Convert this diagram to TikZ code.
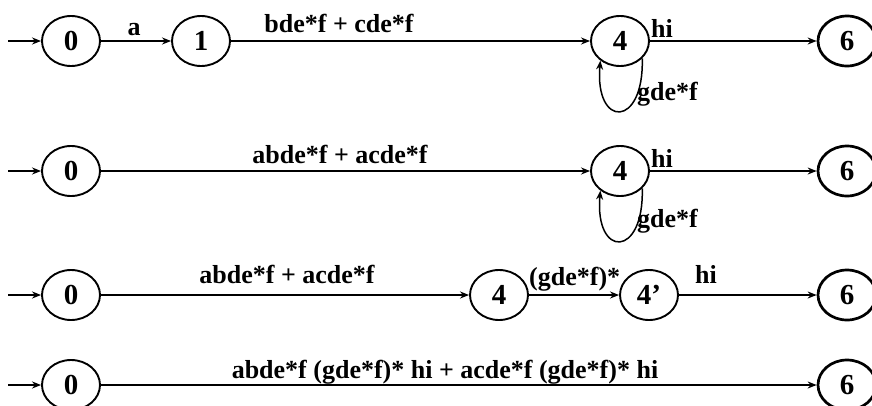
\documentclass[tikz,border=0pt]{standalone}
\usepackage{fontspec}
\setmainfont{Liberation Serif}
\usetikzlibrary{shapes.geometric,arrows.meta}
\begin{document}
\begin{tikzpicture}[x=1pt,y=-1pt,
  font=\fontsize{26}{30}\selectfont\bfseries,
  st/.style={ellipse,draw,line width=1.9pt,minimum width=58pt,minimum height=50pt,inner sep=0pt,font=\fontsize{29}{32}\selectfont\bfseries},
  fin/.style={st,line width=2.7pt},
  tr/.style={-{Stealth[length=9pt,width=7pt]},line width=1.5pt},
  trl/.style={tr,line width=2.1pt},
  lab/.style={anchor=base,inner sep=0pt},
  labw/.style={anchor=base west,inner sep=0pt}]
\useasboundingbox (0,0) rectangle (872,405);
% Row 1
\node[st] (a0) at (71,41) {0};
\node[st] (a1) at (201,41) {1};
\node[st] (a4) at (620,41) {4};
\node[fin] (a6) at (847,41) {6};
\coordinate (as) at (8,41);
\draw[tr] (as) -- (a0);
\draw[tr] (a0) -- (a1);
\draw[trl] (a1) -- (a4);
\draw[tr] (a4) -- (a6);
\draw[tr] (a4.-38) .. controls +(2,70) and +(-6,68) .. (a4.-135);
\node[lab] (la1) at (134,35) {a};
\node[lab] (la2) at (339,32) {bde*f + cde*f};
\node[labw] (la3) at (651,37) {hi};
\node[labw] (la4) at (637,100) {gde*f};
% Row 2
\node[st] (b0) at (71,171) {0};
\node[st] (b4) at (620,171) {4};
\node[fin] (b6) at (847,171) {6};
\coordinate (bs) at (8,171);
\draw[tr] (bs) -- (b0);
\draw[trl] (b0) -- (b4);
\draw[tr] (b4) -- (b6);
\draw[tr] (b4.-38) .. controls +(2,70) and +(-6,68) .. (b4.-135);
\node[lab] (lb1) at (340,163) {abde*f + acde*f};
\node[labw] (lb2) at (651,167) {hi};
\node[labw] (lb3) at (637,227) {gde*f};
% Row 3
\node[st] (c0) at (71,295) {0};
\node[st] (c4) at (499,295) {4};
\node[st] (c4p) at (649,295) {4’};
\node[fin] (c6) at (847,295) {6};
\coordinate (cs) at (8,295);
\draw[tr] (cs) -- (c0);
\draw[trl] (c0) -- (c4);
\draw[tr] (c4) -- (c4p);
\draw[trl] (c4p) -- (c6);
\node[lab] (lc1) at (287,283) {abde*f + acde*f};
\node[labw] (lc2) at (529,285) {(gde*f)*};
\node[lab] (lc3) at (706,283) {hi};
% Row 4
\node[st] (d0) at (71,385) {0};
\node[fin] (d6) at (847,385) {6};
\coordinate (ds) at (8,385);
\draw[tr] (ds) -- (d0);
\draw[trl] (d0) -- (d6);
\node[lab] (ld1) at (445,378) {abde*f (gde*f)* hi + acde*f (gde*f)* hi};
\end{tikzpicture}
\end{document}
